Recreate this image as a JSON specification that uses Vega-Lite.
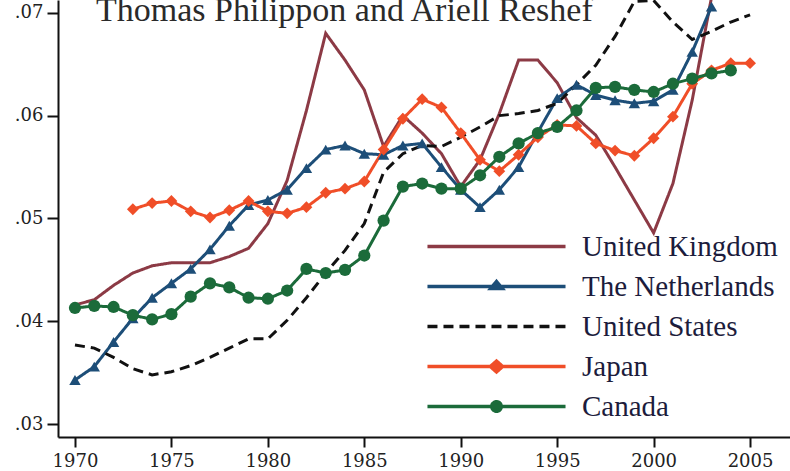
{
  "$schema": "https://vega.github.io/schema/vega-lite/v6.json",
  "width": 732,
  "height": 437,
  "autosize": {"type": "none"},
  "padding": {"left": 58, "top": 0, "right": 0, "bottom": 34},
  "background": "white",
  "config": {"view": {"stroke": null}},
  "title": {"text": "Thomas Philippon and Ariell Reshef", "anchor": "start", "frame": "group", "orient": "top", "offset": -55, "dx": 38, "font": "Liberation Serif", "fontSize": 34, "fontWeight": "normal", "color": "#2a2a2a", "baseline": "alphabetic"},
  "datasets": {
    "series": [
      {"country": "United Kingdom", "year": 1970, "value": 0.0416},
      {"country": "United Kingdom", "year": 1971, "value": 0.0421},
      {"country": "United Kingdom", "year": 1972, "value": 0.0435},
      {"country": "United Kingdom", "year": 1973, "value": 0.0447},
      {"country": "United Kingdom", "year": 1974, "value": 0.0454},
      {"country": "United Kingdom", "year": 1975, "value": 0.0457},
      {"country": "United Kingdom", "year": 1976, "value": 0.0457},
      {"country": "United Kingdom", "year": 1977, "value": 0.0457},
      {"country": "United Kingdom", "year": 1978, "value": 0.0463},
      {"country": "United Kingdom", "year": 1979, "value": 0.0471},
      {"country": "United Kingdom", "year": 1980, "value": 0.0495},
      {"country": "United Kingdom", "year": 1981, "value": 0.0537},
      {"country": "United Kingdom", "year": 1982, "value": 0.0605},
      {"country": "United Kingdom", "year": 1983, "value": 0.0680},
      {"country": "United Kingdom", "year": 1984, "value": 0.0654},
      {"country": "United Kingdom", "year": 1985, "value": 0.0625},
      {"country": "United Kingdom", "year": 1986, "value": 0.0570},
      {"country": "United Kingdom", "year": 1987, "value": 0.0600},
      {"country": "United Kingdom", "year": 1988, "value": 0.0583},
      {"country": "United Kingdom", "year": 1989, "value": 0.0563},
      {"country": "United Kingdom", "year": 1990, "value": 0.0531},
      {"country": "United Kingdom", "year": 1991, "value": 0.0557},
      {"country": "United Kingdom", "year": 1992, "value": 0.0602},
      {"country": "United Kingdom", "year": 1993, "value": 0.0654},
      {"country": "United Kingdom", "year": 1994, "value": 0.0654},
      {"country": "United Kingdom", "year": 1995, "value": 0.0632},
      {"country": "United Kingdom", "year": 1996, "value": 0.0598},
      {"country": "United Kingdom", "year": 1997, "value": 0.0581},
      {"country": "United Kingdom", "year": 1998, "value": 0.0550},
      {"country": "United Kingdom", "year": 1999, "value": 0.0518},
      {"country": "United Kingdom", "year": 2000, "value": 0.0486},
      {"country": "United Kingdom", "year": 2001, "value": 0.0534},
      {"country": "United Kingdom", "year": 2002, "value": 0.0615},
      {"country": "United Kingdom", "year": 2003, "value": 0.0715},
      {"country": "The Netherlands", "year": 1970, "value": 0.0343},
      {"country": "The Netherlands", "year": 1971, "value": 0.0356},
      {"country": "The Netherlands", "year": 1972, "value": 0.0380},
      {"country": "The Netherlands", "year": 1973, "value": 0.0403},
      {"country": "The Netherlands", "year": 1974, "value": 0.0423},
      {"country": "The Netherlands", "year": 1975, "value": 0.0437},
      {"country": "The Netherlands", "year": 1976, "value": 0.0451},
      {"country": "The Netherlands", "year": 1977, "value": 0.0470},
      {"country": "The Netherlands", "year": 1978, "value": 0.0493},
      {"country": "The Netherlands", "year": 1979, "value": 0.0513},
      {"country": "The Netherlands", "year": 1980, "value": 0.0518},
      {"country": "The Netherlands", "year": 1981, "value": 0.0528},
      {"country": "The Netherlands", "year": 1982, "value": 0.0549},
      {"country": "The Netherlands", "year": 1983, "value": 0.0567},
      {"country": "The Netherlands", "year": 1984, "value": 0.0571},
      {"country": "The Netherlands", "year": 1985, "value": 0.0563},
      {"country": "The Netherlands", "year": 1986, "value": 0.0562},
      {"country": "The Netherlands", "year": 1987, "value": 0.0571},
      {"country": "The Netherlands", "year": 1988, "value": 0.0573},
      {"country": "The Netherlands", "year": 1989, "value": 0.0550},
      {"country": "The Netherlands", "year": 1990, "value": 0.0528},
      {"country": "The Netherlands", "year": 1991, "value": 0.0511},
      {"country": "The Netherlands", "year": 1992, "value": 0.0528},
      {"country": "The Netherlands", "year": 1993, "value": 0.0550},
      {"country": "The Netherlands", "year": 1994, "value": 0.0584},
      {"country": "The Netherlands", "year": 1995, "value": 0.0617},
      {"country": "The Netherlands", "year": 1996, "value": 0.0630},
      {"country": "The Netherlands", "year": 1997, "value": 0.0620},
      {"country": "The Netherlands", "year": 1998, "value": 0.0615},
      {"country": "The Netherlands", "year": 1999, "value": 0.0612},
      {"country": "The Netherlands", "year": 2000, "value": 0.0614},
      {"country": "The Netherlands", "year": 2001, "value": 0.0625},
      {"country": "The Netherlands", "year": 2002, "value": 0.0662},
      {"country": "The Netherlands", "year": 2003, "value": 0.0706},
      {"country": "United States", "year": 1970, "value": 0.0377},
      {"country": "United States", "year": 1971, "value": 0.0374},
      {"country": "United States", "year": 1972, "value": 0.0365},
      {"country": "United States", "year": 1973, "value": 0.0354},
      {"country": "United States", "year": 1974, "value": 0.0348},
      {"country": "United States", "year": 1975, "value": 0.0351},
      {"country": "United States", "year": 1976, "value": 0.0357},
      {"country": "United States", "year": 1977, "value": 0.0365},
      {"country": "United States", "year": 1978, "value": 0.0374},
      {"country": "United States", "year": 1979, "value": 0.0383},
      {"country": "United States", "year": 1980, "value": 0.0383},
      {"country": "United States", "year": 1981, "value": 0.0401},
      {"country": "United States", "year": 1982, "value": 0.0423},
      {"country": "United States", "year": 1983, "value": 0.0447},
      {"country": "United States", "year": 1984, "value": 0.0469},
      {"country": "United States", "year": 1985, "value": 0.0495},
      {"country": "United States", "year": 1986, "value": 0.0545},
      {"country": "United States", "year": 1987, "value": 0.0563},
      {"country": "United States", "year": 1988, "value": 0.0571},
      {"country": "United States", "year": 1989, "value": 0.0570},
      {"country": "United States", "year": 1990, "value": 0.0579},
      {"country": "United States", "year": 1991, "value": 0.0589},
      {"country": "United States", "year": 1992, "value": 0.0600},
      {"country": "United States", "year": 1993, "value": 0.0602},
      {"country": "United States", "year": 1994, "value": 0.0605},
      {"country": "United States", "year": 1995, "value": 0.0612},
      {"country": "United States", "year": 1996, "value": 0.0630},
      {"country": "United States", "year": 1997, "value": 0.0649},
      {"country": "United States", "year": 1998, "value": 0.0677},
      {"country": "United States", "year": 1999, "value": 0.0711},
      {"country": "United States", "year": 2000, "value": 0.0712},
      {"country": "United States", "year": 2001, "value": 0.0691},
      {"country": "United States", "year": 2002, "value": 0.0674},
      {"country": "United States", "year": 2003, "value": 0.0682},
      {"country": "United States", "year": 2004, "value": 0.0691},
      {"country": "United States", "year": 2005, "value": 0.0698},
      {"country": "Japan", "year": 1973, "value": 0.0509},
      {"country": "Japan", "year": 1974, "value": 0.0515},
      {"country": "Japan", "year": 1975, "value": 0.0517},
      {"country": "Japan", "year": 1976, "value": 0.0507},
      {"country": "Japan", "year": 1977, "value": 0.0501},
      {"country": "Japan", "year": 1978, "value": 0.0508},
      {"country": "Japan", "year": 1979, "value": 0.0517},
      {"country": "Japan", "year": 1980, "value": 0.0507},
      {"country": "Japan", "year": 1981, "value": 0.0505},
      {"country": "Japan", "year": 1982, "value": 0.0511},
      {"country": "Japan", "year": 1983, "value": 0.0525},
      {"country": "Japan", "year": 1984, "value": 0.0529},
      {"country": "Japan", "year": 1985, "value": 0.0536},
      {"country": "Japan", "year": 1986, "value": 0.0567},
      {"country": "Japan", "year": 1987, "value": 0.0597},
      {"country": "Japan", "year": 1988, "value": 0.0616},
      {"country": "Japan", "year": 1989, "value": 0.0608},
      {"country": "Japan", "year": 1990, "value": 0.0583},
      {"country": "Japan", "year": 1991, "value": 0.0557},
      {"country": "Japan", "year": 1992, "value": 0.0546},
      {"country": "Japan", "year": 1993, "value": 0.0562},
      {"country": "Japan", "year": 1994, "value": 0.0579},
      {"country": "Japan", "year": 1995, "value": 0.0591},
      {"country": "Japan", "year": 1996, "value": 0.0590},
      {"country": "Japan", "year": 1997, "value": 0.0573},
      {"country": "Japan", "year": 1998, "value": 0.0566},
      {"country": "Japan", "year": 1999, "value": 0.0561},
      {"country": "Japan", "year": 2000, "value": 0.0578},
      {"country": "Japan", "year": 2001, "value": 0.0599},
      {"country": "Japan", "year": 2002, "value": 0.0631},
      {"country": "Japan", "year": 2003, "value": 0.0644},
      {"country": "Japan", "year": 2004, "value": 0.0651},
      {"country": "Japan", "year": 2005, "value": 0.0651},
      {"country": "Canada", "year": 1970, "value": 0.0413},
      {"country": "Canada", "year": 1971, "value": 0.0415},
      {"country": "Canada", "year": 1972, "value": 0.0414},
      {"country": "Canada", "year": 1973, "value": 0.0406},
      {"country": "Canada", "year": 1974, "value": 0.0402},
      {"country": "Canada", "year": 1975, "value": 0.0407},
      {"country": "Canada", "year": 1976, "value": 0.0424},
      {"country": "Canada", "year": 1977, "value": 0.0437},
      {"country": "Canada", "year": 1978, "value": 0.0433},
      {"country": "Canada", "year": 1979, "value": 0.0423},
      {"country": "Canada", "year": 1980, "value": 0.0422},
      {"country": "Canada", "year": 1981, "value": 0.0430},
      {"country": "Canada", "year": 1982, "value": 0.0451},
      {"country": "Canada", "year": 1983, "value": 0.0447},
      {"country": "Canada", "year": 1984, "value": 0.0450},
      {"country": "Canada", "year": 1985, "value": 0.0464},
      {"country": "Canada", "year": 1986, "value": 0.0498},
      {"country": "Canada", "year": 1987, "value": 0.0531},
      {"country": "Canada", "year": 1988, "value": 0.0534},
      {"country": "Canada", "year": 1989, "value": 0.0529},
      {"country": "Canada", "year": 1990, "value": 0.0529},
      {"country": "Canada", "year": 1991, "value": 0.0542},
      {"country": "Canada", "year": 1992, "value": 0.0560},
      {"country": "Canada", "year": 1993, "value": 0.0573},
      {"country": "Canada", "year": 1994, "value": 0.0583},
      {"country": "Canada", "year": 1995, "value": 0.0589},
      {"country": "Canada", "year": 1996, "value": 0.0605},
      {"country": "Canada", "year": 1997, "value": 0.0627},
      {"country": "Canada", "year": 1998, "value": 0.0628},
      {"country": "Canada", "year": 1999, "value": 0.0625},
      {"country": "Canada", "year": 2000, "value": 0.0623},
      {"country": "Canada", "year": 2001, "value": 0.0631},
      {"country": "Canada", "year": 2002, "value": 0.0636},
      {"country": "Canada", "year": 2003, "value": 0.0641},
      {"country": "Canada", "year": 2004, "value": 0.0644}
    ]
  },
  "data": {"name": "series"},
  "encoding": {
    "x": {
      "field": "year", "type": "quantitative",
      "scale": {"domain": [1969.12, 2007.07], "nice": false, "zero": false},
      "axis": {"title": null, "values": [1970, 1975, 1980, 1985, 1990, 1995, 2000, 2005], "format": "d", "grid": false,
        "domainColor": "#111", "domainWidth": 2, "tickColor": "#111", "tickWidth": 2, "tickSize": 10,
        "labelFont": "DejaVu Serif", "labelFontSize": 18, "labelColor": "#222", "labelPadding": 5, "labelFlush": false}
    },
    "y": {
      "field": "value", "type": "quantitative",
      "scale": {"domain": [0.02876, 0.07124], "nice": false, "zero": false},
      "axis": {"title": null, "values": [0.03, 0.04, 0.05, 0.06, 0.07], "labelExpr": "replace(format(datum.value, '.2f'), '0.', '.')", "grid": false,
        "domainColor": "#111", "domainWidth": 2, "tickColor": "#111", "tickWidth": 2, "tickSize": 11,
        "labelFont": "DejaVu Serif", "labelFontSize": 18, "labelColor": "#222", "labelPadding": 4}
    }
  },
  "layer": [
    {
      "mark": {"type": "line", "strokeWidth": 3, "clip": true},
      "encoding": {
        "color": {
          "field": "country", "type": "nominal",
          "scale": {"domain": ["United Kingdom", "The Netherlands", "United States", "Japan", "Canada"], "range": ["#8c3a45", "#1d4e78", "#111111", "#f04e28", "#1b6b3a"]},
          "legend": {
            "title": null, "orient": "none", "legendX": 424, "legendY": 232,
            "labelFont": "Liberation Serif", "labelFontSize": 29, "labelColor": "#1c1c3c", "labelLimit": 400,
            "labelOffset": 71, "rowPadding": 10, "symbolSize": 389, "padding": 0,
            "encode": {
              "symbols": {
                "update": {
                  "shape": {"signal": "datum.value === 'The Netherlands' ? 'M-7,0H7M0,-0.5L0.58,0.2L-0.58,0.2Z' : datum.value === 'Japan' ? 'M-7,0H7M0,-0.55L0.62,0L0,0.55L-0.62,0Z' : datum.value === 'Canada' ? 'M-7,0H7M0.48,0A0.48,0.48,0,1,1,-0.48,0A0.48,0.48,0,1,1,0.48,0Z' : 'M-7,0H7'"},
                  "fill": {"signal": "scale('color', datum.value)"},
                  "stroke": {"signal": "scale('color', datum.value)"},
                  "strokeDash": {"signal": "datum.value === 'United States' ? [10, 6] : [1, 0]"},
                  "strokeWidth": {"value": 3.5},
                  "size": {"value": 389},
                  "opacity": {"value": 1}
                }
              }
            }
          }
        },
        "strokeDash": {
          "field": "country", "type": "nominal",
          "scale": {"domain": ["United Kingdom", "The Netherlands", "United States", "Japan", "Canada"], "range": [[1, 0], [1, 0], [10, 6], [1, 0], [1, 0]]},
          "legend": null
        }
      }
    },
    {
      "transform": [{"filter": "datum.country === 'The Netherlands' || datum.country === 'Japan' || datum.country === 'Canada'"}],
      "mark": {"type": "point", "filled": true, "opacity": 1, "clip": true},
      "encoding": {
        "fill": {
          "field": "country", "type": "nominal",
          "scale": {"domain": ["The Netherlands", "Japan", "Canada"], "range": ["#1d4e78", "#f04e28", "#1b6b3a"]},
          "legend": null
        },
        "shape": {
          "field": "country", "type": "nominal",
          "scale": {"domain": ["The Netherlands", "Japan", "Canada"], "range": ["triangle-up", "diamond", "circle"]},
          "legend": null
        },
        "size": {
          "field": "country", "type": "nominal",
          "scale": {"domain": ["The Netherlands", "Japan", "Canada"], "range": [130, 150, 100]},
          "legend": null
        }
      }
    }
  ]
}
